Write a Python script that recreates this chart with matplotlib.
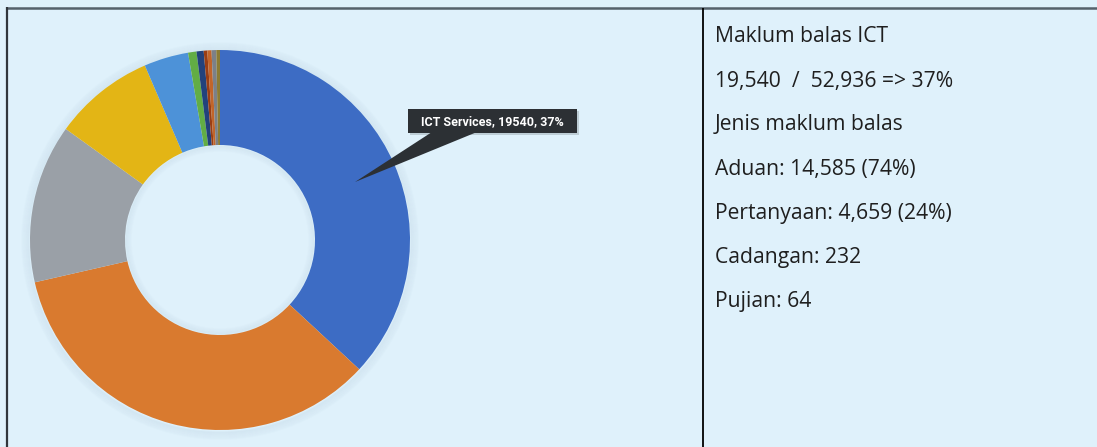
import matplotlib
matplotlib.use("Agg")
import matplotlib.pyplot as plt
from matplotlib.patches import Polygon, Rectangle, Circle

# Feedback counts by category (total 52,936)
categories = ["ICT Services", "Kategori B", "Kategori C", "Kategori D", "Kategori E",
              "Kategori F", "Kategori G", "Kategori H", "Kategori I", "Kategori J", "Kategori K"]
counts = [19540, 18270, 7150, 4550, 2000, 380, 320, 160, 190, 210, 166]
colors = ["#3d6cc4", "#d97a2f", "#9aa0a7", "#e3b515", "#4d92d8",
          "#62ad45", "#22427c", "#9a3e14", "#c2652a", "#7c8088", "#8c7b34"]

callout_text = "ICT Services, 19540, 37%"

summary_lines = [
    "Maklum balas ICT",
    "19,540  /  52,936 => 37%",
    "Jenis maklum balas",
    "Aduan: 14,585 (74%)",
    "Pertanyaan: 4,659 (24%)",
    "Cadangan: 232",
    "Pujian: 64",
]

W, H = 1097, 447
BG = "#dff1fb"

fig = plt.figure(figsize=(W / 100, H / 100), dpi=100, facecolor=BG)
ax = fig.add_axes([0, 0, 1, 1])
ax.set_facecolor(BG)

def py(y):
    # convert top-down pixel row to data y
    return H - y

cx, cy = 220, py(240)
r_out, r_in = 190, 95

# soft shadow around the ring
for i in range(8):
    ax.add_patch(Circle((cx, cy - 1), r_out + 1 + i, facecolor="none",
                        edgecolor="#6f8fa8", linewidth=1.2, alpha=0.06 - i * 0.006, zorder=1))
for i in range(6):
    ax.add_patch(Circle((cx, cy), r_in - 1 - i, facecolor="none",
                        edgecolor="#6f8fa8", linewidth=1.2, alpha=0.06 - i * 0.009, zorder=3))

ax.pie(counts, colors=colors, startangle=90, counterclock=False,
       center=(cx, cy), radius=r_out,
       wedgeprops=dict(width=r_out - r_in, linewidth=0, zorder=2))

# callout box with pointer
box_l, box_r, box_t, box_b = 408, 577, 109, 133
shadow = Rectangle((box_l + 2, py(box_b + 2)), box_r - box_l, box_b - box_t,
                   facecolor="#000000", alpha=0.15, linewidth=0, zorder=5)
ax.add_patch(shadow)
ax.add_patch(Polygon([(432, py(box_b - 1)), (477, py(box_b - 1)), (355, py(182))],
                     closed=True, facecolor="#2c3034", edgecolor="none", zorder=6))
ax.add_patch(Rectangle((box_l, py(box_b)), box_r - box_l, box_b - box_t,
                       facecolor="#2c3034", linewidth=0, zorder=6))
ax.text((box_l + box_r) / 2, py((box_t + box_b) / 2 + 0.5), callout_text,
        color="white", fontsize=9, fontweight="bold", family="Roboto",
        ha="center", va="center", zorder=7)

# table rules
ax.plot([6, W], [py(7.5), py(7.5)], color="#55616b", linewidth=1.8, solid_capstyle="butt", zorder=8)
ax.plot([6.5, 6.5], [py(7), 0], color="#30363c", linewidth=1.6, solid_capstyle="butt", zorder=8)
ax.plot([702.5, 702.5], [py(8), 0], color="#000000", linewidth=1.3, solid_capstyle="butt", zorder=8)

# summary text
y0, step = 37, 44
for i, line in enumerate(summary_lines):
    ax.text(715, py(y0 + i * step), line, color="#1f1f1f", fontsize=15.2,
            family="Open Sans", ha="left", va="center", zorder=8)

ax.set_xlim(0, W)
ax.set_ylim(0, H)
ax.set_aspect("equal")
ax.axis("off")

fig.savefig("out.png", dpi=100, facecolor=BG)
